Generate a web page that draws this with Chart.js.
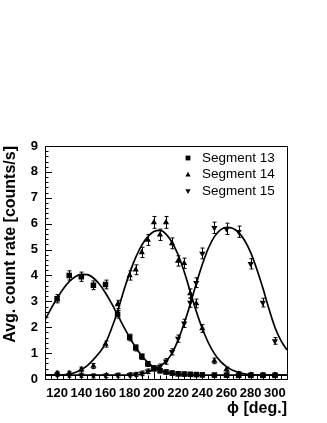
<!DOCTYPE html>
<html>
<head>
<meta charset="utf-8">
<script src="https://cdn.jsdelivr.net/npm/chart.js@4/dist/chart.umd.min.js"></script>
<style>
  html, body { margin: 0; padding: 0; background: #fff; }
  canvas { display: block; }
</style>
</head>
<body>
<canvas id="chart" width="327" height="423"></canvas>
<script>
// measured points (phi in degrees, rate in counts/s)
const phi = [120, 130, 140, 150, 160, 170, 180, 185, 190, 195, 200, 205, 210, 215, 220, 225, 230, 235, 240, 250, 260, 270, 280, 290, 300];
const seg13 = [3.1, 4.0, 3.95, 3.62, 3.65, 2.5, 1.6, 1.2, 0.86, 0.58, 0.4, 0.32, 0.27, 0.23, 0.2, 0.19, 0.18, 0.17, 0.16, 0.15, 0.15, 0.14, 0.14, 0.14, 0.14];
const seg14 = [0.22, 0.22, 0.37, 0.5, 1.35, 2.88, 4.0, 4.22, 4.89, 5.37, 6.05, 5.57, 6.05, 5.24, 4.56, 4.47, 3.3, 2.92, 1.95, 0.7, 0.37, 0.2, 0.16, 0.15, 0.15];
const seg15 = [0.17, 0.15, 0.14, 0.12, 0.13, 0.15, 0.16, 0.18, 0.22, 0.3, 0.42, 0.48, 0.68, 1.05, 1.56, 2.15, 2.95, 3.72, 4.85, 5.84, 5.8, 5.69, 4.45, 2.95, 1.47];
const err13 = [0.12, 0.14, 0.14, 0.13, 0.13, 0.11, 0.09, 0.08, 0.07, 0.06, 0.05, 0.05, 0.04, 0.04, 0.04, 0.04, 0.04, 0.04, 0.04, 0.04, 0.04, 0.04, 0.04, 0.04, 0.04];
const err14 = [0.04, 0.04, 0.05, 0.06, 0.08, 0.12, 0.14, 0.15, 0.16, 0.17, 0.19, 0.18, 0.19, 0.17, 0.16, 0.16, 0.14, 0.13, 0.11, 0.07, 0.05, 0.04, 0.04, 0.04, 0.04];
const err15 = [0.04, 0.04, 0.04, 0.04, 0.04, 0.04, 0.04, 0.04, 0.05, 0.05, 0.06, 0.06, 0.07, 0.08, 0.1, 0.12, 0.14, 0.15, 0.17, 0.18, 0.18, 0.18, 0.16, 0.13, 0.09];

// fitted curves, every 5 degrees
const phiFit = [110, 115, 120, 125, 130, 135, 140, 145, 150, 155, 160, 165, 170, 175, 180, 185, 190, 195, 200, 205, 210, 215, 220, 225, 230, 235, 240, 245, 250, 255, 260, 265, 270, 275, 280, 285, 290, 295, 300, 305, 310];
const fit13 = [2.28, 2.72, 3.12, 3.48, 3.76, 3.95, 4.04, 4.03, 3.9, 3.66, 3.32, 2.92, 2.47, 2.02, 1.6, 1.22, 0.9, 0.64, 0.45, 0.33, 0.26, 0.21, 0.18, 0.17, 0.16, 0.15, 0.15, 0.15, 0.15, 0.15, 0.15, 0.15, 0.15, 0.15, 0.15, 0.15, 0.15, 0.15, 0.15, 0.15, 0.15];
const fit14 = [0.15, 0.15, 0.15, 0.16, 0.19, 0.25, 0.36, 0.52, 0.75, 1.02, 1.38, 1.95, 2.62, 3.4, 4.1, 4.7, 5.17, 5.5, 5.7, 5.74, 5.6, 5.28, 4.8, 4.15, 3.38, 2.62, 1.95, 1.4, 0.98, 0.68, 0.48, 0.34, 0.26, 0.2, 0.17, 0.16, 0.15, 0.15, 0.15, 0.15, 0.15];
const fit15 = [0.15, 0.15, 0.15, 0.15, 0.15, 0.15, 0.15, 0.15, 0.15, 0.15, 0.15, 0.15, 0.15, 0.15, 0.15, 0.16, 0.19, 0.26, 0.38, 0.5, 0.68, 1.0, 1.5, 2.15, 2.88, 3.68, 4.42, 5.05, 5.5, 5.76, 5.86, 5.82, 5.66, 5.35, 4.88, 4.25, 3.52, 2.72, 2.0, 1.48, 1.12];

const labels = ['Segment 13', 'Segment 14', 'Segment 15'];
const xTicks = [120, 140, 160, 180, 200, 220, 240, 260, 280, 300];
const yTicks = [0, 1, 2, 3, 4, 5, 6, 7, 8, 9];

const FONT = '"Liberation Sans", Arial, Helvetica, sans-serif';

function toPoints(xs, ys) {
    return xs.map((v, i) => ({ x: v, y: ys[i] }));
}

function drawMarker(ctx, kind, x, y, s) {
    ctx.beginPath();
    if (kind === 'square') {
        ctx.rect(x - s, y - s, 2 * s, 2 * s);
    } else if (kind === 'up') {
        ctx.moveTo(x, y - s * 1.2);
        ctx.lineTo(x + s * 1.1, y + s * 0.8);
        ctx.lineTo(x - s * 1.1, y + s * 0.8);
    } else {
        ctx.moveTo(x, y + s * 1.2);
        ctx.lineTo(x + s * 1.1, y - s * 0.8);
        ctx.lineTo(x - s * 1.1, y - s * 0.8);
    }
    ctx.closePath();
    ctx.fill();
}

// vertical error bars under the markers
const errorBars = {
    id: 'errorBars',
    beforeDatasetsDraw(chart) {
        const { ctx, scales: { x, y } } = chart;
        ctx.save();
        ctx.strokeStyle = '#000';
        ctx.lineWidth = 1;
        ctx.beginPath();
        chart.data.datasets.forEach(ds => {
            if (!ds.errors) return;
            ds.data.forEach((pt, j) => {
                const px = Math.round(x.getPixelForValue(pt.x)) + 0.5;
                const hi = y.getPixelForValue(pt.y + ds.errors[j]) - 1;
                const lo = y.getPixelForValue(pt.y - ds.errors[j]) + 1;
                ctx.moveTo(px, hi); ctx.lineTo(px, lo);
                ctx.moveTo(px - 2, hi); ctx.lineTo(px + 2, hi);
                ctx.moveTo(px - 2, lo); ctx.lineTo(px + 2, lo);
            });
        });
        ctx.stroke();
        ctx.restore();
    }
};

// frame, inward ticks and the legend box inside the plot
const frameAndLegend = {
    id: 'frameAndLegend',
    afterDraw(chart) {
        const { ctx, chartArea: a, scales: { x, y } } = chart;
        ctx.save();
        ctx.strokeStyle = '#000';
        ctx.lineWidth = 1;
        ctx.strokeRect(a.left + 0.5, a.top + 0.5, a.right - a.left, a.bottom - a.top);

        ctx.beginPath();
        for (let k = 0; k <= 45; k++) {
            const v = k * 0.2;
            const py = Math.round(y.getPixelForValue(v)) + 0.5;
            const len = k % 5 === 0 ? 7 : 3.5;
            ctx.moveTo(a.left, py); ctx.lineTo(a.left + len, py);
        }
        for (let v = 110; v <= 310; v += 5) {
            const px = Math.round(x.getPixelForValue(v)) + 0.5;
            const len = v % 20 === 0 ? 7 : 3.5;
            ctx.moveTo(px, a.bottom); ctx.lineTo(px, a.bottom - len);
        }
        ctx.stroke();

        ctx.fillStyle = '#000';
        ctx.font = '13.5px ' + FONT;
        ctx.textBaseline = 'middle';
        chart.data.datasets.filter(ds => ds.marker).forEach((ds, i) => {
            const ly = a.top + 12 + i * 16.6;
            drawMarker(ctx, ds.marker, a.right - 99, ly, 2.4);
            ctx.fillText(ds.label, a.right - 85, ly);
        });
        ctx.restore();
    }
};

function pointSet(label, values, errors, style, rotation, marker) {
    return {
        label: label,
        data: toPoints(phi, values),
        errors: errors,
        marker: marker,
        pointStyle: style,
        pointRotation: rotation,
        pointRadius: style === 'rect' ? 3.9 : 3.6,
        pointBackgroundColor: '#000',
        pointBorderWidth: 0,
        showLine: false
    };
}

function fitLine(values) {
    return {
        data: toPoints(phiFit, values),
        showLine: true,
        pointRadius: 0,
        borderColor: '#000',
        borderWidth: 1.7,
        cubicInterpolationMode: 'monotone'
    };
}

const tickFont = { family: FONT, size: 13, weight: 'bold' };

new Chart(document.getElementById('chart'), {
    type: 'scatter',
    data: {
        datasets: [
            pointSet(labels[0], seg13, err13, 'rect', 0, 'square'),
            pointSet(labels[1], seg14, err14, 'triangle', 0, 'up'),
            pointSet(labels[2], seg15, err15, 'triangle', 180, 'down'),
            fitLine(fit13),
            fitLine(fit14),
            fitLine(fit15)
        ]
    },
    options: {
        responsive: false,
        animation: false,
        devicePixelRatio: 1,
        layout: { padding: { top: 146, right: 40, left: 0, bottom: 0 } },
        plugins: {
            legend: { display: false },
            tooltip: { enabled: false }
        },
        scales: {
            x: {
                type: 'linear',
                min: 110,
                max: 310,
                afterFit(scale) { scale.height = 44; },
                afterBuildTicks(scale) { scale.ticks = xTicks.map(v => ({ value: v })); },
                grid: { display: false, drawTicks: false },
                border: { display: false },
                ticks: { color: '#000', font: tickFont, padding: 7, maxRotation: 0, autoSkip: false },
                title: {
                    display: true,
                    text: 'ϕ [deg.]',
                    align: 'end',
                    color: '#000',
                    font: { family: FONT, size: 16, weight: 'bold' },
                    padding: { top: 0, bottom: 5 }
                }
            },
            y: {
                min: 0,
                max: 9,
                afterFit(scale) { scale.width = 45; },
                afterBuildTicks(scale) { scale.ticks = yTicks.map(v => ({ value: v })); },
                grid: { display: false, drawTicks: false },
                border: { display: false },
                ticks: { color: '#000', font: tickFont, padding: 7 },
                title: {
                    display: true,
                    text: 'Avg. count rate [counts/s]',
                    align: 'end',
                    color: '#000',
                    font: { family: FONT, size: 16, weight: 'bold' },
                    padding: { top: 1, bottom: 0 }
                }
            }
        }
    },
    plugins: [errorBars, frameAndLegend]
});
</script>
</body>
</html>
